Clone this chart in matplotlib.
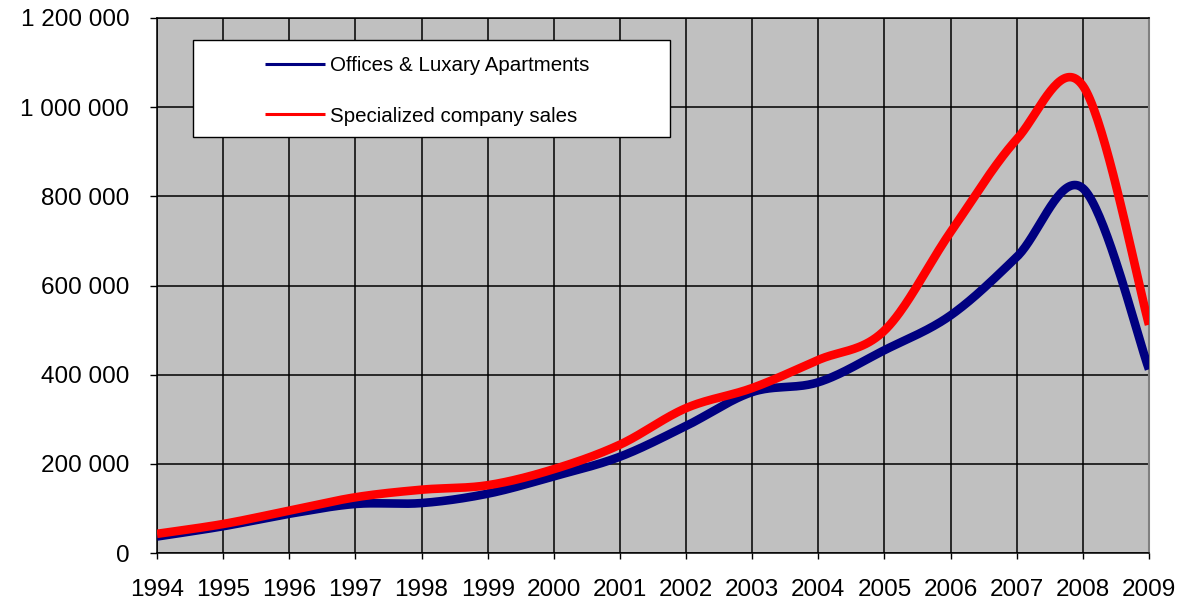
import numpy as np
import matplotlib.pyplot as plt
from matplotlib.patches import Rectangle
from matplotlib.ticker import FuncFormatter

plt.rcParams['font.family'] = ['Liberation Sans', 'DejaVu Sans']

years = list(range(1994, 2010))
# values
offices = [37000, 60000, 88000, 110000, 112000, 133000, 172000, 216000,
           285000, 361000, 383000, 455000, 533000, 664000, 818000, 412000]
company = [43000, 65000, 95000, 125000, 142000, 152000, 188000, 243000,
           325000, 370000, 433000, 499000, 720000, 928000, 1048000, 512000]

y_ticks = [0, 200000, 400000, 600000, 800000, 1000000, 1200000]


def smooth(xs, ys, n=40):
    # Excel-style smoothed line (Catmull-Rom through the points)
    xs = np.asarray(xs, float)
    ys = np.asarray(ys, float)
    px = np.concatenate([[xs[0]], xs, [xs[-1]]])
    py = np.concatenate([[ys[0]], ys, [ys[-1]]])
    out_x, out_y = [], []
    t = np.linspace(0, 1, n)
    for i in range(1, len(px) - 2):
        x0, x1, x2, x3 = px[i - 1:i + 3]
        y0, y1, y2, y3 = py[i - 1:i + 3]
        cx1, cy1 = x1 + (x2 - x0) / 6, y1 + (y2 - y0) / 6
        cx2, cy2 = x2 - (x3 - x1) / 6, y2 - (y3 - y1) / 6
        a, b, c, d = (1 - t) ** 3, 3 * (1 - t) ** 2 * t, 3 * (1 - t) * t ** 2, t ** 3
        out_x.extend(a * x1 + b * cx1 + c * cx2 + d * x2)
        out_y.extend(a * y1 + b * cy1 + c * cy2 + d * y2)
    return out_x, out_y


fig = plt.figure(figsize=(11.77, 6.06), dpi=100)
ax = fig.add_axes([157 / 1177, 53 / 606, 992 / 1177, 535 / 606])
ax.set_facecolor('#C0C0C0')

bx, by = smooth(years, offices)
rx, ry = smooth(years, company)
ax.plot(bx, by, color='#000080', lw=6.2, solid_capstyle='butt', zorder=3,
        label='Offices & Luxary Apartments')
ax.plot(rx, ry, color='#FF0000', lw=6.2, solid_capstyle='butt', zorder=3.1,
        label='Specialized company sales')

ax.set_xlim(1994, 2009)
ax.set_ylim(0, 1200000)
ax.set_xticks(years)
ax.set_yticks(y_ticks)
ax.yaxis.set_major_formatter(FuncFormatter(lambda v, p: f'{int(v):,}'.replace(',', ' ')))
ax.grid(True, color='black', lw=1.1)
ax.set_axisbelow(True)

ax.tick_params(axis='y', direction='out', length=5, width=1, pad=15, labelsize=17.5)
ax.tick_params(axis='x', direction='out', length=4.5, width=1, pad=14, labelsize=17.5)
for side in ['left', 'bottom', 'top']:
    ax.spines[side].set_color('black')
    ax.spines[side].set_linewidth(1.1)
ax.spines['right'].set_color('#808080')
ax.spines['right'].set_linewidth(1.5)

# legend box
box = Rectangle((193 / 1177, (606 - 137) / 606), 477 / 1177, 97 / 606,
                transform=fig.transFigure, facecolor='white', edgecolor='black',
                lw=1.0, zorder=4)
ax.add_patch(box)
box.set_clip_on(False)
leg = ax.legend(loc='upper left', bbox_to_anchor=(265 / 1177, 0.908),
                bbox_transform=fig.transFigure, frameon=False, fontsize=14.8,
                handlelength=2.9, handletextpad=0.25, labelspacing=1.55,
                borderpad=0, borderaxespad=0)
leg.set_zorder(5)
for h in leg.get_lines():
    h.set_linewidth(2.2)

fig.savefig('out.png', dpi=100)
